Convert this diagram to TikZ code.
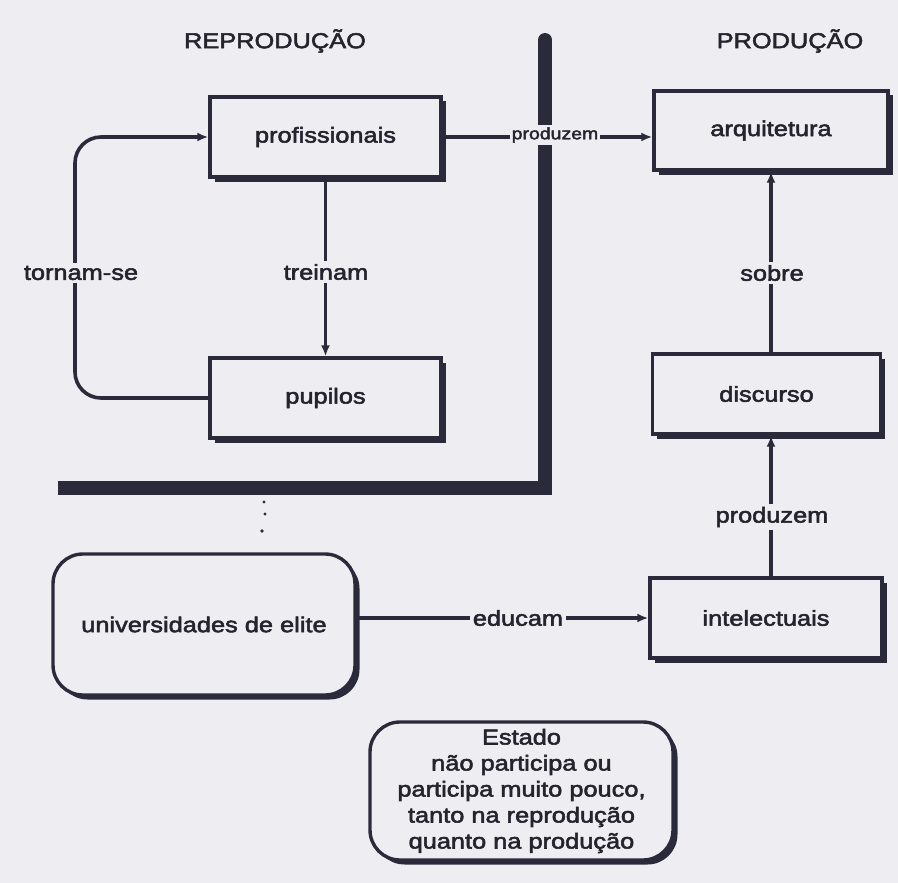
\documentclass[tikz,border=0pt]{standalone}
\usepackage{fontspec}
\setmainfont[FakeStretch=1.18,FakeBold=2.5]{Liberation Sans}
\usetikzlibrary{arrows.meta,calc}
\definecolor{paper}{HTML}{EEEEF2}
\definecolor{ink}{HTML}{2B2A3A}
\definecolor{txt}{HTML}{24232E}
\tikzset{
  lbl/.style={font=\fontsize{21.5}{26}\selectfont, text=txt},
  smalllbl/.style={font=\fontsize{16.5}{20}\selectfont, text=txt},
  stepbox/.style={draw=ink, line width=3.4pt, fill=paper, lbl,
    preaction={fill=ink, transform canvas={shift={(4.5pt,-4.5pt)}}}},
  roundbox/.style={stepbox, rounded corners=30pt},
  conn/.style={draw=ink, line width=3.6pt, -{Latex[length=11pt,width=9pt]}},
  tag/.style={lbl, fill=paper, inner sep=3pt},
  smalltag/.style={smalllbl, fill=paper, inner sep=2pt},
  bar/.style={draw=ink, line width=14pt},
}
\begin{document}
\begin{tikzpicture}[x=1pt,y=-1pt]
  \fill[paper] (0,0) rectangle (898,883);
  \useasboundingbox (0,0) rectangle (898,883);

  % column headings
  \node[lbl] (hrep) at (275,41) {REPRODUÇÃO};
  \node[lbl] (hprod) at (790,41) {PRODUÇÃO};

  % dividing bars
  \draw[bar, line cap=butt, line join=miter] (545,40) -- (545,488) -- (58,488);
  \fill[ink] (545,40) circle (7);

  % boxes
  \node[stepbox, minimum width=231, minimum height=80] (prof) at (325.5,137) {profissionais};
  \node[stepbox, minimum width=231, minimum height=80] (pup) at (325.5,398) {pupilos};
  \node[stepbox, minimum width=234, minimum height=79] (arq) at (771,130.5) {arquitetura};
  \node[stepbox, minimum width=228, minimum height=80] (disc) at (766.5,394) {discurso};
  \node[stepbox, minimum width=232, minimum height=80] (intel) at (766,618) {intelectuais};
  \node[roundbox, minimum width=302, minimum height=141] (univ) at (204,624.5) {universidades de elite};
  \node[roundbox, minimum width=303, minimum height=138, align=center] (estado) at (521.5,791)
    {Estado\\não participa ou\\participa muito pouco,\\tanto na reprodução\\quanto na produção};

  % connectors
  \draw[conn] (prof.east) -- (arq.west |- prof.east);
  \node[smalltag] (lprod) at (555,135) {produzem};

  \draw[conn] (prof.south) -- (pup.north);
  \node[tag] (ltrein) at (326,272) {treinam};

  \coordinate (loop) at (75,137);
  \draw[conn, rounded corners=26pt] (pup.west) -| (loop) -- (prof.west);
  \node[tag] (ltorn) at (81,273) {tornam-se};

  \draw[conn] (disc.north -| arq.south) -- (arq.south);
  \node[tag] (lsobre) at (772,273) {sobre};

  \draw[conn] (intel.north -| arq.south) -- (disc.south -| arq.south);
  \node[tag] (lprod2) at (772,517) {produzem};

  \draw[conn] (univ.east |- intel.west) -- (intel.west);
  \node[tag] (leduc) at (518,618) {educam};

  % small dotted marks below the bar
  \fill[ink] (264,502) circle (1.6) (265,514) circle (1.6) (262,531) circle (1.8);
\end{tikzpicture}
\end{document}
